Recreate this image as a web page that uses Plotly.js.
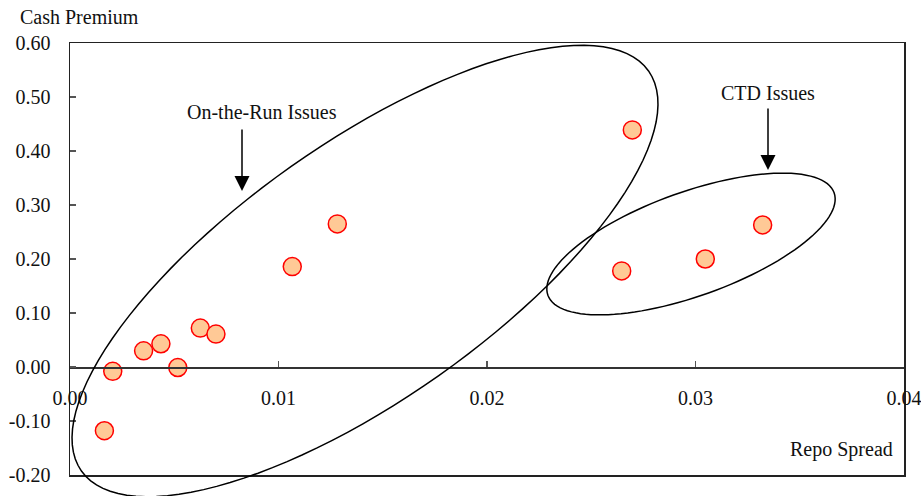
<!DOCTYPE html>
<html>
<head>
<meta charset="utf-8">
<script src="https://cdn.plot.ly/plotly-3.0.1.min.js"></script>
<style>html,body{margin:0;padding:0;background:#fff;}#chart{width:921px;height:496px;}</style>
</head>
<body>
<div id="chart"></div>
<script>
// ---- data ----
const repoSpread  = [0.00165, 0.00205, 0.00353, 0.00436, 0.00517, 0.00625, 0.00700, 0.01066, 0.01282, 0.02697, 0.02646, 0.03047, 0.03322];
const cashPremium = [-0.118, -0.008, 0.030, 0.043, -0.001, 0.072, 0.061, 0.186, 0.265, 0.439, 0.178, 0.200, 0.263];
const xTickVals   = [0, 0.01, 0.02, 0.03, 0.04];
const xTickText   = ['0.00', '0.01', '0.02', '0.03', '0.04'];
const yTickVals   = [-0.2, -0.1, 0, 0.1, 0.2, 0.3, 0.4, 0.5, 0.6];
const yTickText   = ['-0.20', '-0.10', '0.00', '0.10', '0.20', '0.30', '0.40', '0.50', '0.60'];
const xTitle = 'Repo Spread';
const yTitle = 'Cash Premium';
const groupLabels = ['On-the-Run Issues', 'CTD Issues'];

// ---- layout geometry ----
const W = 921, H = 496;
const M = {l: 70, r: 17, t: 43, b: 21};
const PW = W - M.l - M.r, PH = H - M.t - M.b;
const FONT = "'Liberation Serif', 'Times New Roman', serif";
const px2x = X => (X - M.l) / PW;
const px2y = Y => (H - M.b - Y) / PH;

function ellipsePath(cx, cy, a, b, angDeg) {
  const t = angDeg * Math.PI / 180, n = 120;
  let d = '';
  for (let i = 0; i <= n; i++) {
    const s = 2 * Math.PI * i / n;
    const ex = a * Math.cos(s), ey = b * Math.sin(s);
    const X = cx + ex * Math.cos(t) - ey * Math.sin(t);
    const Y = cy + ex * Math.sin(t) + ey * Math.cos(t);
    d += (i === 0 ? 'M' : 'L') + px2x(X).toFixed(5) + ',' + px2y(Y).toFixed(5);
  }
  return d + 'Z';
}

const traces = [
  {
    x: repoSpread, y: cashPremium, type: 'scatter', mode: 'markers',
    xaxis: 'x', yaxis: 'y',
    marker: {size: 18, color: '#FFC996', line: {color: '#FF0000', width: 1.5}},
    hoverinfo: 'x+y', showlegend: false
  },
  {
    x: repoSpread, y: cashPremium, type: 'scatter', mode: 'markers',
    xaxis: 'x2', yaxis: 'y', marker: {opacity: 0}, hoverinfo: 'skip', showlegend: false
  }
];

const axLine = '#222';
const layout = {
  width: W, height: H,
  margin: M,
  paper_bgcolor: '#fff', plot_bgcolor: '#fff',
  font: {family: FONT, size: 20, color: '#111'},
  showlegend: false,
  xaxis: {
    range: [0, 0.04], showgrid: false, zeroline: false,
    showline: true, mirror: true, linecolor: axLine, linewidth: 1.5,
    ticks: '', showticklabels: false, fixedrange: true
  },
  xaxis2: {
    overlaying: 'x', anchor: 'free', position: 0.25, matches: 'x',
    range: [0, 0.04], showgrid: false, zeroline: false,
    showline: true, linecolor: '#333', linewidth: 1.5,
    ticks: 'inside', ticklen: 6, tickwidth: 1.2, tickcolor: '#555',
    tickvals: xTickVals, ticktext: xTickText,
    ticklabelstandoff: 12, ticklabeloverflow: 'allow',
    tickfont: {family: FONT, size: 20, color: '#111'}
  },
  yaxis: {
    range: [-0.2, 0.6], showgrid: false, zeroline: false,
    showline: true, mirror: true, linecolor: axLine, linewidth: 1.5,
    ticks: 'inside', ticklen: 6, tickwidth: 1.2, tickcolor: '#555',
    tickvals: yTickVals, ticktext: yTickText,
    ticklabelstandoff: 14, ticklabeloverflow: 'allow',
    tickfont: {family: FONT, size: 20, color: '#111'}, fixedrange: true
  },
  shapes: [
    {type: 'path', xref: 'paper', yref: 'paper', path: ellipsePath(365, 271, 347, 128, -35.2),
     line: {color: '#000', width: 1.5}, fillcolor: 'rgba(0,0,0,0)'},
    {type: 'path', xref: 'paper', yref: 'paper', path: ellipsePath(691, 244, 152, 52, -19.7),
     line: {color: '#000', width: 1.5}, fillcolor: 'rgba(0,0,0,0)'}
  ],
  annotations: [
    {xref: 'paper', yref: 'paper', x: px2x(18), y: px2y(17), xanchor: 'left', yanchor: 'middle',
     text: yTitle, showarrow: false, font: {family: FONT, size: 20, color: '#111'}},
    {xref: 'paper', yref: 'paper', x: px2x(895), y: px2y(449), xanchor: 'right', yanchor: 'middle',
     text: xTitle, showarrow: false, font: {family: FONT, size: 20, color: '#111'}},
    {xref: 'paper', yref: 'paper', x: px2x(262), y: px2y(112), xanchor: 'center', yanchor: 'middle',
     text: groupLabels[0], showarrow: false, font: {family: FONT, size: 20, color: '#111'}},
    {xref: 'paper', yref: 'paper', x: px2x(768), y: px2y(93), xanchor: 'center', yanchor: 'middle',
     text: groupLabels[1], showarrow: false, font: {family: FONT, size: 20, color: '#111'}},
    {xref: 'paper', yref: 'paper', x: px2x(242), y: px2y(191), text: '', showarrow: true,
     ax: 0, ay: -63, arrowhead: 2, arrowsize: 2, arrowwidth: 1.5, arrowcolor: '#000', standoff: 0},
    {xref: 'paper', yref: 'paper', x: px2x(768), y: px2y(170), text: '', showarrow: true,
     ax: 0, ay: -63, arrowhead: 2, arrowsize: 2, arrowwidth: 1.5, arrowcolor: '#000', standoff: 0}
  ]
};

Plotly.newPlot('chart', traces, layout, {displayModeBar: false, staticPlot: true});
</script>
</body>
</html>
